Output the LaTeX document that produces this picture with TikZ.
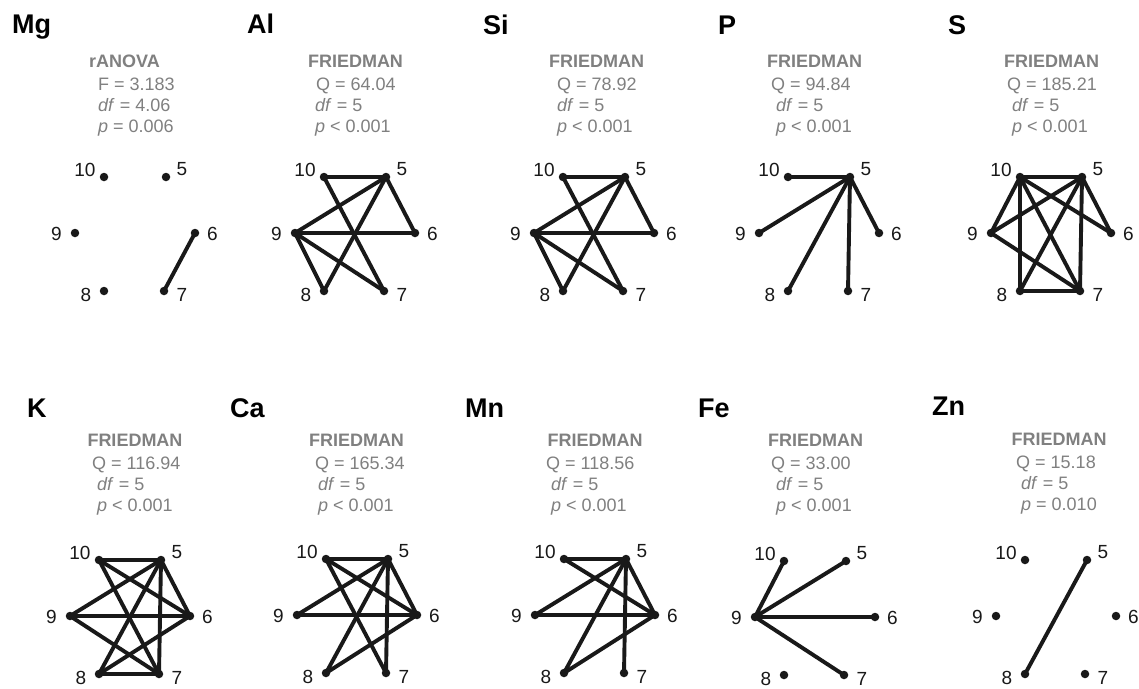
\documentclass[tikz,border=0pt]{standalone}
\usepackage{fontspec}
\setmainfont{Liberation Sans}
\definecolor{statgray}{RGB}{128,128,128}
\definecolor{ink}{RGB}{25,25,25}

\tikzset{
  dot/.style={circle, fill=ink, inner sep=0pt, minimum size=8.5pt},
  link/.style={line width=3.9pt, draw=ink, line cap=round},
  numlabel/.style={font=\fontsize{19}{19}\selectfont, text=ink, inner sep=0pt},
  paneltitle/.style={font=\fontsize{27}{27}\selectfont\bfseries, text=black, anchor=base west, inner sep=0pt},
  stathead/.style={font=\fontsize{18}{18}\selectfont\bfseries, text=statgray, anchor=base, inner sep=0pt},
  statline/.style={font=\fontsize{18}{18}\selectfont, text=statgray, anchor=base west, inner sep=0pt},
}

% six sampling points of one element: #1 name, #2/#3 position of point 10, #4 significant pairs
\newcommand\elemgraph[4]{%
  \begin{scope}[shift={(#2,#3)}]
    \node[dot] (#1-10) at (0,0) {};
    \node[dot] (#1-5)  at (62,0) {};
    \node[dot] (#1-9)  at (-29,56) {};
    \node[dot] (#1-6)  at (91,56) {};
    \node[dot] (#1-8)  at (0,114) {};
    \node[dot] (#1-7)  at (60,114) {};
    \node[numlabel] (#1-n10) at (-19,-7) {10};
    \node[numlabel] (#1-n5)  at (78,-8) {5};
    \node[numlabel] (#1-n9)  at (-47.5,57) {9};
    \node[numlabel] (#1-n6)  at (108.5,57) {6};
    \node[numlabel] (#1-n8)  at (-18,118) {8};
    \node[numlabel] (#1-n7)  at (78,118) {7};
  \end{scope}
  \foreach \a/\b in {#4} \draw[link] (#1-\a.center) -- (#1-\b.center);
}

% test statistics: #1 name, #2 header x, #3 header, #4 first line x, #5 first line,
% #6 x of the other lines, #7 second line, #8 third line, #9 header baseline
\newcommand\statblock[9]{%
  \node[stathead] (#1-head) at (#2,#9) {#3};
  \node[statline] (#1-stat) at (#4,#9+23) {#5};
  \node[statline] (#1-df)   at (#6,#9+44) {#7};
  \node[statline] (#1-p)    at (#6,#9+65) {#8};
}

\begin{document}
\begin{tikzpicture}[x=1pt,y=-1pt]
\fill[white] (0,0) rectangle (1139,688);
\useasboundingbox (0,0) rectangle (1139,688);

% ---- top row ----
\node[paneltitle] (Mg-title) at (12,33) {Mg};
\statblock{Mg}{124.5}{rANOVA}{98}{F = 3.183}{98}{\textit{df} = 4.06}{\textit{p} = 0.006}{67}
\elemgraph{Mg}{104}{177}{6/7}

\node[paneltitle] (Al-title) at (247,33) {Al};
\statblock{Al}{355.5}{FRIEDMAN}{316}{Q = 64.04}{315}{\textit{df} = 5}{\textit{p} < 0.001}{67}
\elemgraph{Al}{324}{177}{10/5, 10/7, 5/9, 5/8, 5/6, 9/6, 9/8, 9/7}

\node[paneltitle] (Si-title) at (483,34) {Si};
\statblock{Si}{596.5}{FRIEDMAN}{557}{Q = 78.92}{557}{\textit{df} = 5}{\textit{p} < 0.001}{67}
\elemgraph{Si}{563}{177}{10/5, 10/7, 5/9, 5/8, 5/6, 9/6, 9/8, 9/7}

\node[paneltitle] (P-title) at (718,34) {P};
\statblock{P}{814.5}{FRIEDMAN}{771}{Q = 94.84}{776}{\textit{df} = 5}{\textit{p} < 0.001}{67}
\elemgraph{P}{788}{177}{5/10, 5/9, 5/8, 5/7, 5/6}

\node[paneltitle] (S-title) at (948,34) {S};
\statblock{S}{1051.5}{FRIEDMAN}{1007}{Q = 185.21}{1012}{\textit{df} = 5}{\textit{p} < 0.001}{67}
\elemgraph{S}{1020}{177}{10/5, 10/9, 10/8, 10/7, 10/6, 5/9, 5/8, 5/7, 5/6, 9/7, 8/7}

% ---- bottom row ----
\node[paneltitle] (K-title) at (27,417) {K};
\statblock{K}{135}{FRIEDMAN}{92}{Q = 116.94}{97}{\textit{df} = 5}{\textit{p} < 0.001}{446}
\elemgraph{K}{99}{560}{10/5, 10/6, 10/7, 9/5, 9/6, 9/7, 8/5, 8/6, 8/7, 5/7, 5/6}

\node[paneltitle] (Ca-title) at (230,417) {Ca};
\statblock{Ca}{356.5}{FRIEDMAN}{315}{Q = 165.34}{318}{\textit{df} = 5}{\textit{p} < 0.001}{446}
\elemgraph{Ca}{326}{559}{10/5, 10/6, 10/7, 5/9, 5/8, 5/7, 5/6, 9/6, 8/6}

\node[paneltitle] (Mn-title) at (465,417) {Mn};
\statblock{Mn}{595}{FRIEDMAN}{546}{Q = 118.56}{551}{\textit{df} = 5}{\textit{p} < 0.001}{446}
\elemgraph{Mn}{564}{559}{10/5, 10/6, 5/9, 5/8, 5/7, 5/6, 9/6, 8/6}

\node[paneltitle] (Fe-title) at (698,417) {Fe};
\statblock{Fe}{815.5}{FRIEDMAN}{771}{Q = 33.00}{776}{\textit{df} = 5}{\textit{p} < 0.001}{446}
\elemgraph{Fe}{784}{561}{9/10, 9/5, 9/6, 9/7}

\node[paneltitle] (Zn-title) at (932,415) {Zn};
\statblock{Zn}{1059}{FRIEDMAN}{1016}{Q = 15.18}{1021}{\textit{df} = 5}{\textit{p} = 0.010}{445}
\elemgraph{Zn}{1025}{560}{5/8}
\end{tikzpicture}
\end{document}
